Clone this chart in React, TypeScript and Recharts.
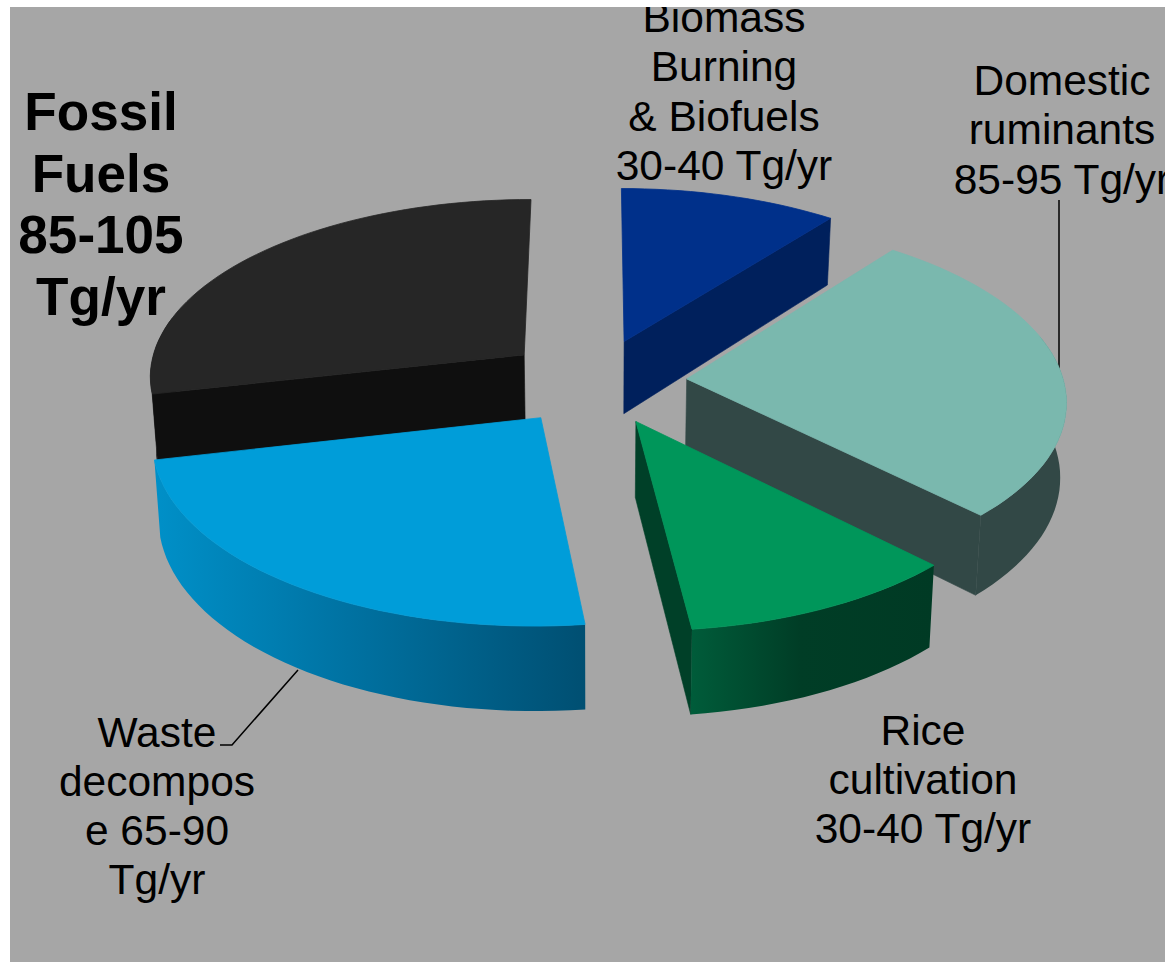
import { PieChart, Pie } from 'recharts';

// methane sources, drawn clockwise starting with fossil fuels (range midpoints, Tg/yr)
const SOURCES = ['Fossil Fuels', 'Biomass Burning & Biofuels', 'Domestic ruminants', 'Rice cultivation', 'Waste decompose'];
const VALUES = [95, 35, 90, 35, 77.5];

const TOP_COLORS = ['#262626', '#00308a', '#7ab8ae', '#00965a', '#009dd9'];
const FACE_COLORS = ['#0f0f0f', '#00205c', '#324846', '#004028', '#00405c'];
const WALL_STOPS = [
  ['#0f0f0f', '#0f0f0f', '#0f0f0f'],
  ['#00205c', '#00205c', '#00205c'],
  ['#324846', '#324846', '#324846'],
  ['#005c3a', '#003d26', '#003a24'],
  ['#0090c8', '#0072a2', '#004f72'],
];

const BIOMASS_LABEL = ['Biomass', 'Burning', '& Biofuels', '30-40 Tg/yr'];
const DOMESTIC_LABEL = ['Domestic', 'ruminants', '85-95 Tg/yr'];
const RICE_LABEL = ['Rice', 'cultivation', '30-40 Tg/yr'];
const WASTE_LABEL = ['Waste', 'decompos', 'e 65-90', 'Tg/yr'];
const FOSSIL_LABEL = ['Fossil', 'Fuels', '85-105', 'Tg/yr'];

const data = SOURCES.map((name, i) => ({ name, value: VALUES[i] }));

// fake 3d: a ground plane seen in perspective, slices pulled out along their bisector
const EXPLODE = 92;
const DEPTH = 74;
const TILT = 0.471;
const CAMERA = 3500;
const RADIUS = 377;
const FOSSIL_START = 90 + (VALUES[0] / VALUES.reduce((a, b) => a + b, 0)) * 360;

const rad = (d: number) => (d * Math.PI) / 180;

function project(cx: number, cy: number, x: number, y: number, z: number) {
  const p = CAMERA / (CAMERA - y);
  return [cx + x * p * (1 - z * 0.00018), cy + y * TILT * p + z * p] as const;
}

const toPath = (pts: ReadonlyArray<readonly [number, number]>) =>
  'M' + pts.map((q) => `${q[0].toFixed(1)},${q[1].toFixed(1)}`).join('L') + 'Z';

function Wedge3D(props: any) {
  const { cx, cy, outerRadius, startAngle, endAngle, index } = props;
  const mid = (startAngle + endAngle) / 2;
  const ox = EXPLODE * Math.cos(rad(mid));
  const oy = -EXPLODE * Math.sin(rad(mid));

  const at = (angle: number, r: number, z: number) =>
    project(cx, cy, ox + r * Math.cos(rad(angle)), oy - r * Math.sin(rad(angle)), z);

  // arc samples, clockwise on screen
  const angles: number[] = [];
  const steps = Math.ceil((startAngle - endAngle) / 2);
  for (let i = 0; i <= steps; i++) angles.push(startAngle + ((endAngle - startAngle) * i) / steps);

  const top = [at(0, 0, 0), ...angles.map((a) => at(a, outerRadius, 0))];

  // a cut face shows only when its normal points towards the viewer
  const faces: string[] = [];
  const apexTop = at(0, 0, 0);
  const apexBottom = at(0, 0, DEPTH);
  if (Math.sin(rad(startAngle + 90)) < -0.01) {
    faces.push(toPath([apexTop, at(startAngle, outerRadius, 0), at(startAngle, outerRadius, DEPTH), apexBottom]));
  }
  if (Math.sin(rad(endAngle - 90)) < -0.01) {
    faces.push(toPath([apexTop, at(endAngle, outerRadius, 0), at(endAngle, outerRadius, DEPTH), apexBottom]));
  }

  // outer wall: front half plus a little past the sides, the top face hides the overlap
  const front = angles.filter((a) => Math.sin(rad(a)) <= 0.25);
  const wall = front.length > 1
    ? [...front.map((a) => at(a, outerRadius, 0)), ...[...front].reverse().map((a) => at(a, outerRadius, DEPTH))]
    : null;
  const wallX = wall ? wall.map((q) => q[0]) : [0];
  const gradientId = `wall-${index}`;

  return (
    <g>
      {wall && (
        <defs>
          <linearGradient
            id={gradientId}
            gradientUnits="userSpaceOnUse"
            x1={Math.min(...wallX)}
            x2={Math.max(...wallX)}
            y1={0}
            y2={0}
          >
            <stop offset="0%" stopColor={WALL_STOPS[index][0]} />
            <stop offset="45%" stopColor={WALL_STOPS[index][1]} />
            <stop offset="100%" stopColor={WALL_STOPS[index][2]} />
          </linearGradient>
        </defs>
      )}
      {faces.map((d, i) => (
        <path key={i} d={d} fill={FACE_COLORS[index]} stroke={FACE_COLORS[index]} strokeWidth={0.6} />
      ))}
      {wall && <path d={toPath(wall)} fill={`url(#${gradientId})`} />}
      <path d={toPath(top)} fill={TOP_COLORS[index]} stroke={TOP_COLORS[index]} strokeWidth={0.8} />
    </g>
  );
}

function TextBlock({ lines, x, y, size, lineHeight, bold }: { lines: string[]; x: number; y: number; size: number; lineHeight: number; bold?: boolean }) {
  return (
    <text
      textAnchor="middle"
      fontFamily="'Liberation Sans', Arial, sans-serif"
      fontSize={size}
      fontWeight={bold ? 700 : 400}
      fill="#000"
    >
      {lines.map((line, i) => (
        <tspan key={line} x={x} y={y + i * lineHeight}>
          {line}
        </tspan>
      ))}
    </text>
  );
}

export default function App() {
  return (
    <div style={{ position: 'absolute', left: 0, top: 0, width: 1165, height: 962, background: '#fff', overflow: 'hidden' }}>
      <div style={{ position: 'absolute', left: 10, top: 7, width: 1155, height: 955, background: '#a6a6a6', overflow: 'hidden' }}>
        <div style={{ position: 'absolute', left: -10, top: -7 }}>
          <PieChart width={1165} height={962} margin={{ top: 0, right: 0, bottom: 0, left: 0 }}>
            <Pie
              data={data}
              dataKey="value"
              nameKey="name"
              cx={595}
              cy={381.5}
              innerRadius={0}
              outerRadius={RADIUS}
              startAngle={FOSSIL_START}
              endAngle={FOSSIL_START - 360}
              paddingAngle={0}
              stroke="none"
              shape={Wedge3D}
              isAnimationActive={false}
            />
            <polyline points="1059,200 1059,370" fill="none" stroke="#000" strokeWidth={1.5} />
            <polyline points="298,670 232,745 220,745" fill="none" stroke="#000" strokeWidth={1.5} />
            <TextBlock lines={BIOMASS_LABEL} x={724} y={32} size={42.5} lineHeight={49.3} />
            <TextBlock lines={DOMESTIC_LABEL} x={1062} y={95} size={42.5} lineHeight={49.3} />
            <TextBlock lines={RICE_LABEL} x={923} y={744.5} size={42.5} lineHeight={49.3} />
            <TextBlock lines={WASTE_LABEL} x={157} y={746.5} size={42.5} lineHeight={49.3} />
            <TextBlock lines={FOSSIL_LABEL} x={101} y={130} size={53.1} lineHeight={61.5} bold />
          </PieChart>
        </div>
      </div>
    </div>
  );
}
